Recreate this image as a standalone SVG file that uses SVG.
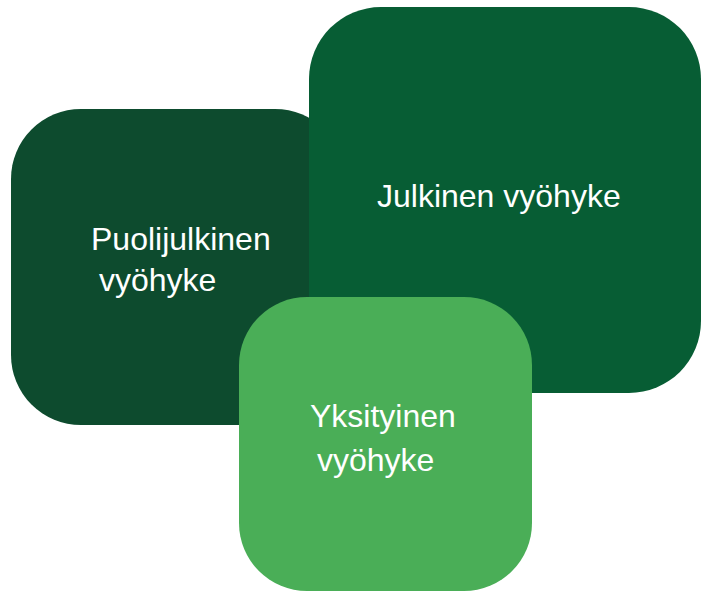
<svg xmlns="http://www.w3.org/2000/svg" width="702" height="591" viewBox="0 0 702 591">
<style>
.lbl{font-family:"Liberation Sans",Arial,sans-serif;font-size:32px;fill:#ffffff}
</style>
<rect width="702" height="591" fill="#ffffff"/>
<g id="puolijulkinen">
<rect x="11" y="109" width="334" height="316" rx="70" ry="70" fill="#0d4b2e"/>
<text class="lbl" x="91" y="250">Puolijulkinen</text>
<text class="lbl" x="99" y="291">vyöhyke</text>
</g>
<g id="julkinen">
<rect x="309" y="7" width="392" height="386" rx="72" ry="72" fill="#075d34"/>
<text class="lbl" x="377" y="207">Julkinen vyöhyke</text>
</g>
<g id="yksityinen">
<rect x="239" y="297" width="293" height="294" rx="68" ry="68" fill="#4aae57"/>
<text class="lbl" x="310" y="427">Yksityinen</text>
<text class="lbl" x="317" y="471">vyöhyke</text>
</g>
<g id="connectors"></g>
</svg>
